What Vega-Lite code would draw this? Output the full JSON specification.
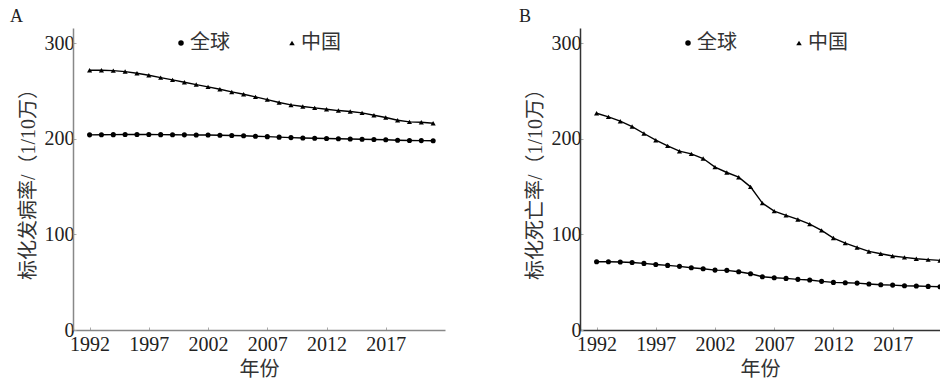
{
  "$schema": "https://vega.github.io/schema/vega-lite/v6.json",
  "padding": {"left": 10, "top": 8, "right": 0, "bottom": 0},
  "datasets": {
    "rows": [
      {"panel": "A", "year": 1992, "series": "全球", "value": 204.2},
      {"panel": "A", "year": 1993, "series": "全球", "value": 204.3},
      {"panel": "A", "year": 1994, "series": "全球", "value": 204.4},
      {"panel": "A", "year": 1995, "series": "全球", "value": 204.5},
      {"panel": "A", "year": 1996, "series": "全球", "value": 204.5},
      {"panel": "A", "year": 1997, "series": "全球", "value": 204.5},
      {"panel": "A", "year": 1998, "series": "全球", "value": 204.4},
      {"panel": "A", "year": 1999, "series": "全球", "value": 204.3},
      {"panel": "A", "year": 2000, "series": "全球", "value": 204.2},
      {"panel": "A", "year": 2001, "series": "全球", "value": 204.1},
      {"panel": "A", "year": 2002, "series": "全球", "value": 204.0},
      {"panel": "A", "year": 2003, "series": "全球", "value": 203.8},
      {"panel": "A", "year": 2004, "series": "全球", "value": 203.5},
      {"panel": "A", "year": 2005, "series": "全球", "value": 203.2},
      {"panel": "A", "year": 2006, "series": "全球", "value": 202.8},
      {"panel": "A", "year": 2007, "series": "全球", "value": 202.3},
      {"panel": "A", "year": 2008, "series": "全球", "value": 201.8},
      {"panel": "A", "year": 2009, "series": "全球", "value": 201.3},
      {"panel": "A", "year": 2010, "series": "全球", "value": 200.9},
      {"panel": "A", "year": 2011, "series": "全球", "value": 200.6},
      {"panel": "A", "year": 2012, "series": "全球", "value": 200.3},
      {"panel": "A", "year": 2013, "series": "全球", "value": 200.1},
      {"panel": "A", "year": 2014, "series": "全球", "value": 199.9},
      {"panel": "A", "year": 2015, "series": "全球", "value": 199.6},
      {"panel": "A", "year": 2016, "series": "全球", "value": 199.3},
      {"panel": "A", "year": 2017, "series": "全球", "value": 199.0},
      {"panel": "A", "year": 2018, "series": "全球", "value": 198.6},
      {"panel": "A", "year": 2019, "series": "全球", "value": 198.3},
      {"panel": "A", "year": 2020, "series": "全球", "value": 198.2},
      {"panel": "A", "year": 2021, "series": "全球", "value": 198.0},
      {"panel": "A", "year": 1992, "series": "中国", "value": 271.8},
      {"panel": "A", "year": 1993, "series": "中国", "value": 271.8},
      {"panel": "A", "year": 1994, "series": "中国", "value": 271.4},
      {"panel": "A", "year": 1995, "series": "中国", "value": 270.4},
      {"panel": "A", "year": 1996, "series": "中国", "value": 268.6},
      {"panel": "A", "year": 1997, "series": "中国", "value": 266.6},
      {"panel": "A", "year": 1998, "series": "中国", "value": 264.1},
      {"panel": "A", "year": 1999, "series": "中国", "value": 261.7},
      {"panel": "A", "year": 2000, "series": "中国", "value": 259.2},
      {"panel": "A", "year": 2001, "series": "中国", "value": 256.8},
      {"panel": "A", "year": 2002, "series": "中国", "value": 254.4},
      {"panel": "A", "year": 2003, "series": "中国", "value": 251.9},
      {"panel": "A", "year": 2004, "series": "中国", "value": 249.1},
      {"panel": "A", "year": 2005, "series": "中国", "value": 246.7},
      {"panel": "A", "year": 2006, "series": "中国", "value": 243.9},
      {"panel": "A", "year": 2007, "series": "中国", "value": 241.1},
      {"panel": "A", "year": 2008, "series": "中国", "value": 238.0},
      {"panel": "A", "year": 2009, "series": "中国", "value": 235.5},
      {"panel": "A", "year": 2010, "series": "中国", "value": 233.8},
      {"panel": "A", "year": 2011, "series": "中国", "value": 232.4},
      {"panel": "A", "year": 2012, "series": "中国", "value": 231.0},
      {"panel": "A", "year": 2013, "series": "中国", "value": 229.6},
      {"panel": "A", "year": 2014, "series": "中国", "value": 228.6},
      {"panel": "A", "year": 2015, "series": "中国", "value": 227.2},
      {"panel": "A", "year": 2016, "series": "中国", "value": 224.7},
      {"panel": "A", "year": 2017, "series": "中国", "value": 222.3},
      {"panel": "A", "year": 2018, "series": "中国", "value": 219.5},
      {"panel": "A", "year": 2019, "series": "中国", "value": 217.8},
      {"panel": "A", "year": 2020, "series": "中国", "value": 217.4},
      {"panel": "A", "year": 2021, "series": "中国", "value": 216.4},
      {"panel": "B", "year": 1992, "series": "全球", "value": 71.4},
      {"panel": "B", "year": 1993, "series": "全球", "value": 71.4},
      {"panel": "B", "year": 1994, "series": "全球", "value": 71.1},
      {"panel": "B", "year": 1995, "series": "全球", "value": 70.7},
      {"panel": "B", "year": 1996, "series": "全球", "value": 69.7},
      {"panel": "B", "year": 1997, "series": "全球", "value": 68.6},
      {"panel": "B", "year": 1998, "series": "全球", "value": 67.6},
      {"panel": "B", "year": 1999, "series": "全球", "value": 66.6},
      {"panel": "B", "year": 2000, "series": "全球", "value": 65.2},
      {"panel": "B", "year": 2001, "series": "全球", "value": 64.1},
      {"panel": "B", "year": 2002, "series": "全球", "value": 62.7},
      {"panel": "B", "year": 2003, "series": "全球", "value": 62.4},
      {"panel": "B", "year": 2004, "series": "全球", "value": 61.0},
      {"panel": "B", "year": 2005, "series": "全球", "value": 58.9},
      {"panel": "B", "year": 2006, "series": "全球", "value": 55.7},
      {"panel": "B", "year": 2007, "series": "全球", "value": 54.7},
      {"panel": "B", "year": 2008, "series": "全球", "value": 54.0},
      {"panel": "B", "year": 2009, "series": "全球", "value": 53.0},
      {"panel": "B", "year": 2010, "series": "全球", "value": 52.3},
      {"panel": "B", "year": 2011, "series": "全球", "value": 50.9},
      {"panel": "B", "year": 2012, "series": "全球", "value": 49.8},
      {"panel": "B", "year": 2013, "series": "全球", "value": 49.5},
      {"panel": "B", "year": 2014, "series": "全球", "value": 49.1},
      {"panel": "B", "year": 2015, "series": "全球", "value": 48.1},
      {"panel": "B", "year": 2016, "series": "全球", "value": 47.4},
      {"panel": "B", "year": 2017, "series": "全球", "value": 47.0},
      {"panel": "B", "year": 2018, "series": "全球", "value": 46.3},
      {"panel": "B", "year": 2019, "series": "全球", "value": 46.0},
      {"panel": "B", "year": 2020, "series": "全球", "value": 45.6},
      {"panel": "B", "year": 2021, "series": "全球", "value": 45.3},
      {"panel": "B", "year": 1992, "series": "中国", "value": 226.8},
      {"panel": "B", "year": 1993, "series": "中国", "value": 223.0},
      {"panel": "B", "year": 1994, "series": "中国", "value": 218.5},
      {"panel": "B", "year": 1995, "series": "中国", "value": 212.9},
      {"panel": "B", "year": 1996, "series": "中国", "value": 205.6},
      {"panel": "B", "year": 1997, "series": "中国", "value": 198.6},
      {"panel": "B", "year": 1998, "series": "中国", "value": 192.7},
      {"panel": "B", "year": 1999, "series": "中国", "value": 187.1},
      {"panel": "B", "year": 2000, "series": "中国", "value": 184.3},
      {"panel": "B", "year": 2001, "series": "中国", "value": 179.4},
      {"panel": "B", "year": 2002, "series": "中国", "value": 170.4},
      {"panel": "B", "year": 2003, "series": "中国", "value": 164.8},
      {"panel": "B", "year": 2004, "series": "中国", "value": 159.9},
      {"panel": "B", "year": 2005, "series": "中国", "value": 149.8},
      {"panel": "B", "year": 2006, "series": "中国", "value": 132.8},
      {"panel": "B", "year": 2007, "series": "中国", "value": 124.4},
      {"panel": "B", "year": 2008, "series": "中国", "value": 119.9},
      {"panel": "B", "year": 2009, "series": "中国", "value": 115.7},
      {"panel": "B", "year": 2010, "series": "中国", "value": 110.8},
      {"panel": "B", "year": 2011, "series": "中国", "value": 104.2},
      {"panel": "B", "year": 2012, "series": "中国", "value": 96.2},
      {"panel": "B", "year": 2013, "series": "中国", "value": 90.9},
      {"panel": "B", "year": 2014, "series": "中国", "value": 86.4},
      {"panel": "B", "year": 2015, "series": "中国", "value": 82.2},
      {"panel": "B", "year": 2016, "series": "中国", "value": 79.8},
      {"panel": "B", "year": 2017, "series": "中国", "value": 77.4},
      {"panel": "B", "year": 2018, "series": "中国", "value": 76.0},
      {"panel": "B", "year": 2019, "series": "中国", "value": 74.6},
      {"panel": "B", "year": 2020, "series": "中国", "value": 73.6},
      {"panel": "B", "year": 2021, "series": "中国", "value": 72.8}
    ]
  },
  "data": {"name": "rows"},
  "spacing": 74,
  "hconcat": [
    {
      "title": {"text": "A", "anchor": "start", "frame": "bounds", "dx": -8},
      "width": 372,
      "height": 302,
      "transform": [{"filter": "datum.panel === 'A'"}],
      "encoding": {
        "x": {"field": "year", "type": "quantitative", "scale": {"domain": [1990.6, 2022], "nice": false, "zero": false},
          "axis": {"title": "年份", "values": [1992, 1997, 2002, 2007, 2012, 2017], "format": "d", "domainColor": "#888888"}},
        "y": {"field": "value", "type": "quantitative", "scale": {"domain": [0, 316], "nice": false},
          "axis": {"title": "标化发病率/（1/10万）", "values": [0, 100, 200, 300], "domainColor": "#888888"}}
      },
      "layer": [
        {"mark": {"type": "line", "color": "black", "strokeWidth": 1.4}, "encoding": {"detail": {"field": "series"}}},
        {"mark": {"type": "point", "filled": true, "color": "black", "opacity": 1, "size": 26},
          "encoding": {"shape": {"field": "series", "type": "nominal", "scale": {"domain": ["全球", "中国"], "range": ["circle", "triangle-up"]},
            "legend": {"title": null, "orient": "none", "legendX": 98, "legendY": 5, "direction": "horizontal"}}}}
      ]
    },
    {
      "title": {"text": "B", "anchor": "start", "frame": "bounds", "dx": -6},
      "width": 360,
      "height": 302,
      "transform": [{"filter": "datum.panel === 'B'"}],
      "encoding": {
        "x": {"field": "year", "type": "quantitative", "scale": {"domain": [1990.6, 2021], "nice": false, "zero": false},
          "axis": {"title": "年份", "values": [1992, 1997, 2002, 2007, 2012, 2017], "format": "d", "domainColor": "#333333"}},
        "y": {"field": "value", "type": "quantitative", "scale": {"domain": [0, 316], "nice": false},
          "axis": {"title": "标化死亡率/（1/10万）", "values": [0, 100, 200, 300], "domainColor": "#333333"}}
      },
      "layer": [
        {"mark": {"type": "line", "color": "black", "strokeWidth": 1.4, "clip": true}, "encoding": {"detail": {"field": "series"}}},
        {"mark": {"type": "point", "filled": true, "color": "black", "opacity": 1, "size": 26, "clip": true},
          "encoding": {"shape": {"field": "series", "type": "nominal", "scale": {"domain": ["全球", "中国"], "range": ["circle", "triangle-up"]},
            "legend": {"title": null, "orient": "none", "legendX": 98, "legendY": 5, "direction": "horizontal"}}}}
      ]
    }
  ],
  "resolve": {"scale": {"shape": "independent"}, "legend": {"shape": "independent"}},
  "config": {
    "view": {"stroke": null},
    "font": "Liberation Serif, Noto Sans CJK SC",
    "title": {"font": "Liberation Serif", "fontSize": 18, "fontWeight": "normal", "color": "#222222", "offset": 2},
    "axis": {
      "grid": false,
      "labelFont": "Liberation Serif",
      "labelFontSize": 20,
      "labelColor": "#222222",
      "titleFont": "Liberation Serif, Noto Sans CJK SC",
      "titleFontSize": 20,
      "titleFontWeight": "normal",
      "titleColor": "#333333",
      "domainWidth": 1.5,
      "tickSize": -3,
      "tickColor": "#aaaaaa",
      "labelPadding": 6
    },
    "axisX": {"titlePadding": 5, "labelPadding": 7},
    "axisY": {"titlePadding": 6, "labelPadding": 2},
    "legend": {
      "labelFont": "Noto Sans CJK SC",
      "labelFontSize": 20,
      "labelColor": "#333333",
      "symbolFillColor": "black",
      "symbolStrokeColor": "black",
      "symbolSize": 30,
      "columnPadding": 52,
      "symbolOffset": 0,
      "labelOffset": -1,
      "padding": 0
    }
  }
}
